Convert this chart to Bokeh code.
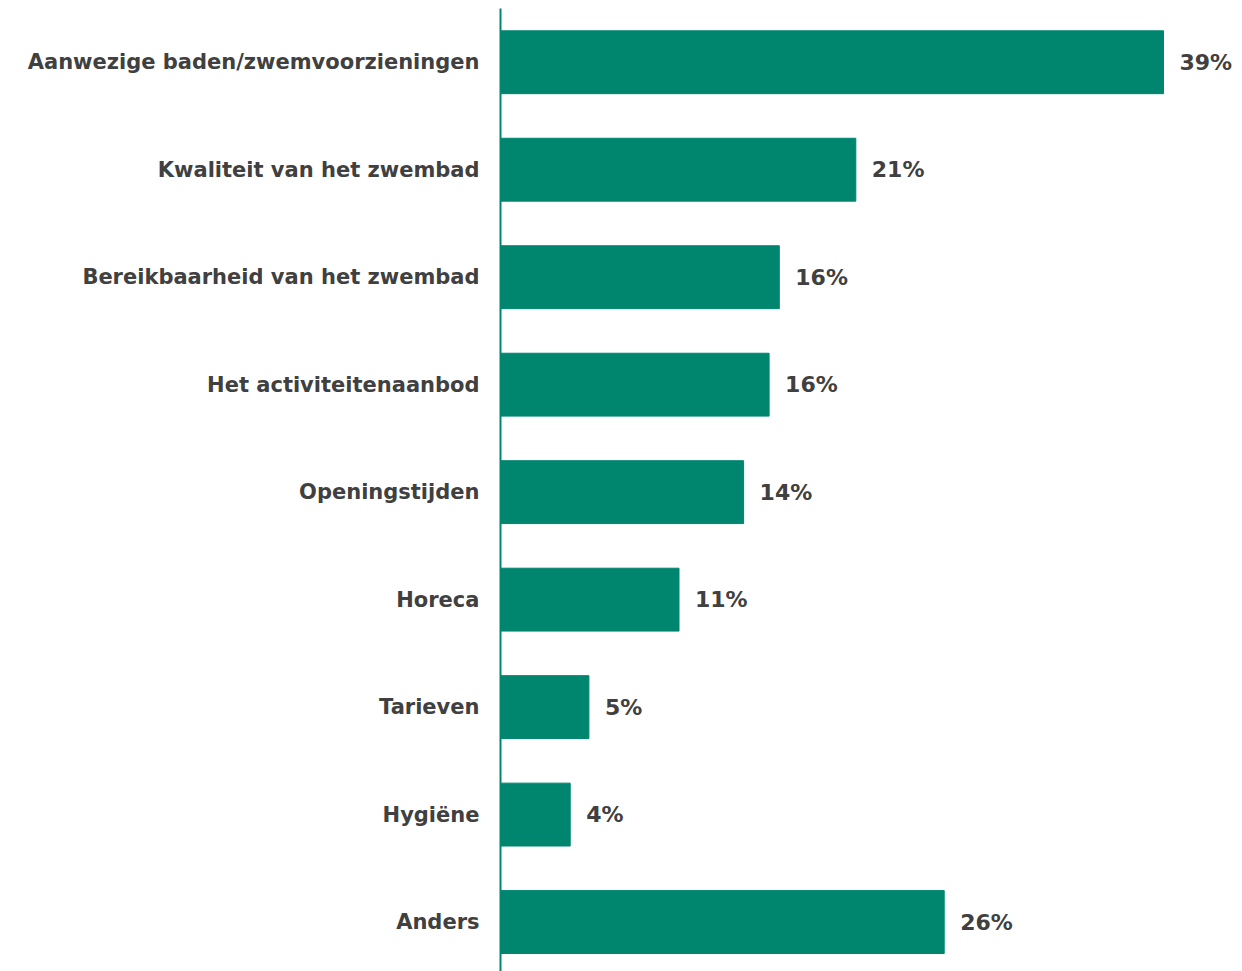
from bokeh.plotting import figure
from bokeh.models import Range1d, ColumnDataSource, FixedTicker
from bokeh.core.properties import value
from bokeh.embed import file_html
from bokeh.resources import INLINE

categories = ["Aanwezige baden/zwemvoorzieningen", "Kwaliteit van het zwembad",
              "Bereikbaarheid van het zwembad", "Het activiteitenaanbod",
              "Openingstijden", "Horeca", "Tarieven", "Hygiëne", "Anders"]
values = [39.0, 20.9, 16.4, 15.8, 14.3, 10.5, 5.2, 4.1, 26.1]
labels = ["39%", "21%", "16%", "16%", "14%", "11%", "5%", "4%", "26%"]

n = len(categories)
ypos = [n - 1 - i for i in range(n)]
src = ColumnDataSource(dict(y=ypos, v=values, lab=labels))

FONT = "DejaVu Sans"
TXT = "#404040"
GREEN = "#00856F"

p = figure(width=1242, height=971, output_backend="svg", toolbar_location=None,
           x_range=Range1d(0, (1242 - 500) / 17.0), y_range=Range1d(-0.46, 8.5),
           min_border_left=500, min_border_right=0, min_border_top=8, min_border_bottom=0)
p.outline_line_color = None
p.grid.visible = False
p.xaxis.visible = False

p.hbar(y="y", right="v", left=0, height=0.585, source=src, color=GREEN)
p.text(x="v", y="y", text="lab", source=src, x_offset=16, text_align="left",
       text_baseline="middle", text_font=value(FONT), text_font_style="bold",
       text_font_size="22px", text_color=TXT)

ax = p.yaxis[0]
ax.ticker = FixedTicker(ticks=ypos)
ax.major_label_overrides = {y: c for y, c in zip(ypos, categories)}
ax.major_tick_line_color = None
ax.minor_tick_line_color = None
ax.axis_line_color = GREEN
ax.axis_line_width = 2
ax.major_label_standoff = 15
ax.major_label_text_font = FONT
ax.major_label_text_font_style = "bold"
ax.major_label_text_font_size = "21px"
ax.major_label_text_color = TXT

open("out.html", "w").write(file_html(p, INLINE))
